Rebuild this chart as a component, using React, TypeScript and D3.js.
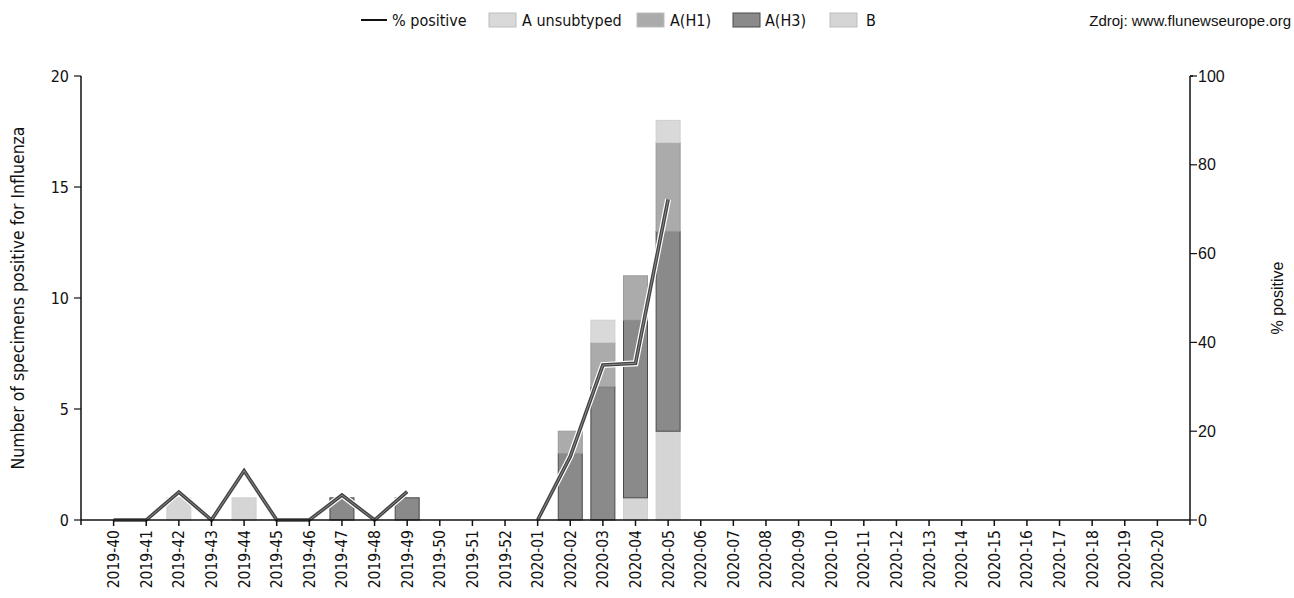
import React from 'react'
import * as d3 from 'd3'

// weeks on the x axis
const weeks = [
  '2019-40', '2019-41', '2019-42', '2019-43', '2019-44', '2019-45', '2019-46', '2019-47', '2019-48', '2019-49',
  '2019-50', '2019-51', '2019-52',
  '2020-01', '2020-02', '2020-03', '2020-04', '2020-05', '2020-06', '2020-07', '2020-08', '2020-09', '2020-10',
  '2020-11', '2020-12', '2020-13', '2020-14', '2020-15', '2020-16', '2020-17', '2020-18', '2020-19', '2020-20',
]

// specimens per week (index = week)
const bValues = [0, 0, 1, 0, 1, 0, 0, 0, 0, 0, 0, 0, 0, 0, 0, 0, 1, 4, 0, 0, 0, 0, 0, 0, 0, 0, 0, 0, 0, 0, 0, 0, 0]
const h3Values = [0, 0, 0, 0, 0, 0, 0, 1, 0, 1, 0, 0, 0, 0, 3, 6, 8, 9, 0, 0, 0, 0, 0, 0, 0, 0, 0, 0, 0, 0, 0, 0, 0]
const h1Values = [0, 0, 0, 0, 0, 0, 0, 0, 0, 0, 0, 0, 0, 0, 1, 2, 2, 4, 0, 0, 0, 0, 0, 0, 0, 0, 0, 0, 0, 0, 0, 0, 0]
const unsubValues = [0, 0, 0, 0, 0, 0, 0, 0, 0, 0, 0, 0, 0, 0, 0, 1, 0, 1, 0, 0, 0, 0, 0, 0, 0, 0, 0, 0, 0, 0, 0, 0, 0]

// % positive, null = no data
const pctPositive = [0, 0, 6.3, 0, 11.1, 0, 0, 5.6, 0, 6.4, null, null, null, 0, 14.3, 34.9, 35.3, 72.2,
  null, null, null, null, null, null, null, null, null, null, null, null, null, null, null]

const leftTicks = [0, 5, 10, 15, 20]
const rightTicks = [0, 20, 40, 60, 80, 100]

// bottom to top
const stackKeys = ['B', 'A(H3)', 'A(H1)', 'A unsubtyped']
const colors = { 'B': '#d5d5d5', 'A(H3)': '#8a8a8a', 'A(H1)': '#ababab', 'A unsubtyped': '#d9d9d9' }
const strokes = { 'B': '#cfcfcf', 'A(H3)': '#4a4a4a', 'A(H1)': '#9a9a9a', 'A unsubtyped': '#cfcfcf' }

const App = () => {
  const width = 1294, height = 598
  const left = 81, right = 1190, top = 76, bottom = 520

  const x = d3.scalePoint().domain(weeks).range([left, right]).padding(1)
  const yL = d3.scaleLinear().domain([0, 20]).range([bottom, top])
  const yR = d3.scaleLinear().domain([0, 100]).range([bottom, top])
  const barW = 24

  const rows = weeks.map((w, i) => ({
    week: w, 'B': bValues[i], 'A(H3)': h3Values[i], 'A(H1)': h1Values[i], 'A unsubtyped': unsubValues[i],
  }))
  const series = d3.stack().keys(stackKeys)(rows as any)

  const line = d3.line<any>()
    .defined(d => d.v !== null)
    .x(d => x(d.w) as number)
    .y(d => yR(d.v))
  const lineData = weeks.map((w, i) => ({ w, v: pctPositive[i] }))
  const linePath = line(lineData) || ''

  const font = 'Liberation Sans, Arial, sans-serif'
  const condensed = 'DejaVu Sans Condensed, DejaVu Sans, sans-serif'

  const legendBoxes = [
    { key: 'A unsubtyped', x: 489, tx: 522 },
    { key: 'A(H1)', x: 637, tx: 670 },
    { key: 'A(H3)', x: 733, tx: 765 },
    { key: 'B', x: 830, tx: 866 },
  ]

  return (
    <svg width={width} height={height} style={{ position: 'absolute', left: 0, top: 0, background: '#fff' }}>
      {/* bars */}
      {series.map(s => (
        <g key={s.key}>
          {s.map((d, i) => d[1] - d[0] > 0 ? (
            <rect key={i}
              x={(x(weeks[i]) as number) - barW / 2}
              y={yL(d[1])}
              width={barW}
              height={yL(d[0]) - yL(d[1])}
              fill={colors[s.key]}
              stroke={strokes[s.key]}
              strokeWidth={1} />
          ) : null)}
        </g>
      ))}

      {/* % positive line */}
      <path d={linePath} fill="none" stroke="#fff" strokeWidth={6} />
      <path d={linePath} fill="none" stroke="#444" strokeWidth={3.6} />
      <path d={linePath} fill="none" stroke="#8a8a8a" strokeWidth={1} />

      {/* x axis */}
      <line x1={left} x2={right} y1={bottom} y2={bottom} stroke="#111" strokeWidth={1.5} />
      {weeks.map(w => (
        <g key={w} transform={`translate(${x(w)},${bottom})`}>
          <line y1={0} y2={6} stroke="#111" strokeWidth={1.5} />
          <text transform="rotate(-90)" x={-10} y={5.5} textAnchor="end" fontFamily={condensed} fontSize={15.5} fill="#111">{w}</text>
        </g>
      ))}

      {/* left axis */}
      <line x1={left} x2={left} y1={top} y2={bottom + 5} stroke="#111" strokeWidth={1.5} />
      {leftTicks.map(t => (
        <g key={t} transform={`translate(${left},${yL(t)})`}>
          <line x1={-7} x2={0} stroke="#111" strokeWidth={1.2} />
          <text x={-12} dy="0.35em" textAnchor="end" fontFamily={condensed} fontSize={16} fill="#111">{t}</text>
        </g>
      ))}
      <text transform={`translate(24,${(top + bottom) / 2}) rotate(-90)`} textAnchor="middle" fontFamily={condensed} fontSize={17.5} fill="#111">
        Number of specimens positive for Influenza
      </text>

      {/* right axis */}
      <line x1={right} x2={right} y1={top} y2={bottom + 5} stroke="#111" strokeWidth={1.5} />
      <line x1={right} x2={right + 3} y1={top} y2={top} stroke="#111" strokeWidth={1.5} />
      {rightTicks.map(t => (
        <g key={t} transform={`translate(${right},${yR(t)})`}>
          <line x1={0} x2={7} stroke="#111" strokeWidth={1.2} />
          <text x={8} dy="0.35em" textAnchor="start" fontFamily={font} fontSize={16} fill="#111">{t}</text>
        </g>
      ))}
      <text transform={`translate(1283,${(top + bottom) / 2}) rotate(-90)`} textAnchor="middle" fontFamily={font} fontSize={16} fill="#111">
        % positive
      </text>

      {/* legend */}
      <line x1={361} x2={387} y1={20} y2={20} stroke="#111" strokeWidth={2} />
      <text x={392} y={26} fontFamily={condensed} fontSize={16} fill="#111">% positive</text>
      {legendBoxes.map(b => (
        <g key={b.key}>
          <rect x={b.x} y={13} width={27} height={14} fill={colors[b.key]} stroke={b.key === 'A(H3)' ? '#4a4a4a' : '#bdbdbd'} />
          <text x={b.tx} y={26} fontFamily={condensed} fontSize={16} fill="#111">{b.key}</text>
        </g>
      ))}

      <text x={1291} y={26} textAnchor="end" fontFamily={font} fontSize={15} fill="#111">Zdroj: www.flunewseurope.org</text>
    </svg>
  )
}

export default App
